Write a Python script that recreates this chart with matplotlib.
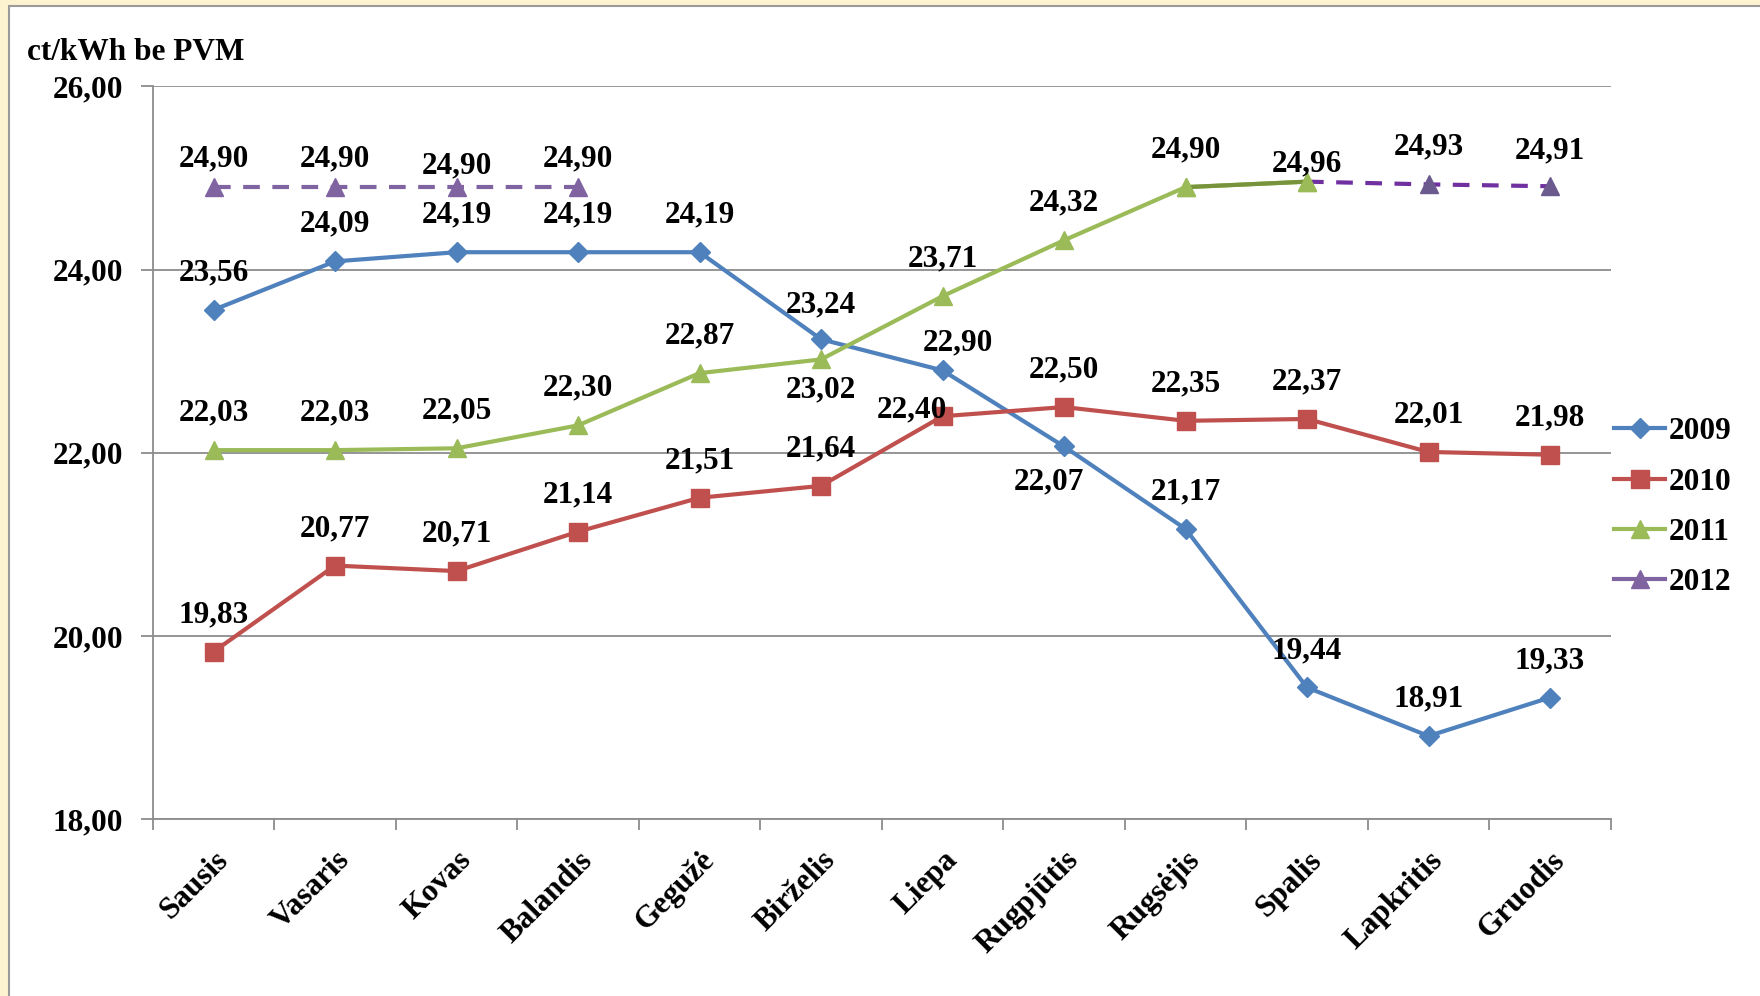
import numpy as np
import matplotlib
matplotlib.use("Agg")
import matplotlib.pyplot as plt
from matplotlib.patches import Rectangle

# data
months = ['Sausis', 'Vasaris', 'Kovas', 'Balandis', 'Gegužė', 'Birželis',
          'Liepa', 'Rugpjūtis', 'Rugsėjis', 'Spalis', 'Lapkritis', 'Gruodis']
y2009 = [23.56, 24.09, 24.19, 24.19, 24.19, 23.24, 22.90, 22.07, 21.17, 19.44, 18.91, 19.33]
y2010 = [19.83, 20.77, 20.71, 21.14, 21.51, 21.64, 22.40, 22.50, 22.35, 22.37, 22.01, 21.98]
y2011 = [22.03, 22.03, 22.05, 22.30, 22.87, 23.02, 23.71, 24.32, 24.90, 24.96, np.nan, np.nan]
y2012 = [24.90, 24.90, 24.90, 24.90, np.nan, np.nan, np.nan, np.nan, np.nan, 24.96, 24.93, 24.91]
yticks = [18, 20, 22, 24, 26]

plt.rcParams['font.family'] = ['Liberation Serif', 'DejaVu Serif']
plt.rcParams['font.weight'] = 'bold'
fs = 22.5

fig = plt.figure(figsize=(17.6, 9.96), dpi=100)
fig.patch.set_facecolor('#FEF3D0')
# white panel with grey border
fig.patches.append(Rectangle((9 / 1760, -0.01), 1.0, 1 - 6 / 996 + 0.01, transform=fig.transFigure,
                             facecolor='white', edgecolor='#9A9A9A', linewidth=1.5, zorder=-10))

ax = fig.add_axes([0.0868, 0.1773, 0.8284, 0.736])
x = np.arange(len(months))

# 2012 dashed (drawn under 2011 so the Spalis point shows green)
ax.plot(x[:4], y2012[:4], color='#8064A2', linestyle=(0, (4, 3)), linewidth=3,
        marker='^', markersize=13, markerfacecolor='#8064A2', markeredgecolor='#8064A2', zorder=3)
ax.plot(x[9:], y2012[9:], color='#7030A0', linestyle=(0, (4, 3)), linewidth=3,
        marker='^', markersize=13, markevery=[1, 2], markerfacecolor='#6B5A8E',
        markeredgecolor='#6B5A8E', zorder=3)
ax.plot(x, y2009, color='#4F81BD', linewidth=3, marker='D', markersize=10, zorder=4)
ax.plot(x, y2010, color='#C0504D', linewidth=3, marker='s', markersize=13, zorder=4)
ax.plot(x, y2011, color='#9BBB59', linewidth=3, marker='^', markersize=13, zorder=5)
# darker last segment of 2011
ax.plot(x[8:10], y2011[8:10], color='#77933C', linewidth=3, zorder=5)
ax.plot(x[8:10], y2011[8:10], color='#9BBB59', linestyle='none', marker='^', markersize=13, zorder=5)

# legend handles
h1, = ax.plot([], [], color='#4F81BD', linewidth=3, marker='D', markersize=10)
h2, = ax.plot([], [], color='#C0504D', linewidth=3, marker='s', markersize=13)
h3, = ax.plot([], [], color='#9BBB59', linewidth=3, marker='^', markersize=13)
h4, = ax.plot([], [], color='#8064A2', linewidth=3, marker='^', markersize=13)
leg = ax.legend([h1, h2, h3, h4], ['2009', '2010', '2011', '2012'], loc='center left',
                bbox_to_anchor=(1.0, 0.426), frameon=False, fontsize=fs, handlelength=1.65,
                handletextpad=0.1, labelspacing=0.68, borderaxespad=0.0, borderpad=0.1)

# data labels (offsets in pixels)
normal = 37
special = {
    ('2009', 5): (0, 34), ('2009', 6): (15, 28), ('2009', 7): (-15, -35),
    ('2010', 6): (-31, 6),
    ('2011', 5): (0, -30), ('2011', 9): (0, 18),
    ('2012', 0): (0, 28), ('2012', 1): (0, 28), ('2012', 2): (0, 21), ('2012', 3): (0, 28),
    ('2012', 11): (0, 35),
}
for name, ys in [('2009', y2009), ('2010', y2010), ('2011', y2011), ('2012', y2012)]:
    for i, v in enumerate(ys):
        if np.isnan(v) or (name == '2012' and i == 9):
            continue
        dx, dy = special.get((name, i), (0, normal))
        ax.annotate(f'{v:.2f}'.replace('.', ','), (i, v), xytext=(dx, dy),
                    textcoords='offset pixels', ha='center', va='center',
                    fontsize=fs, fontweight='bold', zorder=6)

ax.set_xlim(-0.5, 11.5)
ax.set_ylim(18, 26)
ax.set_yticks(yticks)
ax.set_yticklabels([f'{t:.2f}'.replace('.', ',') for t in yticks], fontsize=fs, fontweight='bold')
ax.yaxis.grid(True, color='#8C8C8C', linewidth=1.3)
ax.set_axisbelow(True)

ax.set_xticks(x)
ax.set_xticklabels(months, fontsize=fs, fontweight='bold', rotation=45, ha='right',
                   rotation_mode='anchor')
ax.set_xticks(np.arange(-0.5, 12, 1), minor=True)
ax.tick_params(axis='x', which='major', length=0, pad=19)
ax.tick_params(axis='x', which='minor', length=8, color='#8C8C8C', width=1.3)
ax.tick_params(axis='y', length=8.5, color='#8C8C8C', width=1.3, pad=13)

for s in ['top', 'right']:
    ax.spines[s].set_visible(False)
ax.spines['left'].set_color('#8C8C8C')
ax.spines['bottom'].set_color('#8C8C8C')
ax.spines['left'].set_linewidth(1.3)
ax.spines['bottom'].set_linewidth(1.3)
ax.set_facecolor('none')

fig.text(27 / 1760, 1 - 52 / 996, 'ct/kWh be PVM', fontsize=fs, fontweight='bold', va='center')

fig.savefig('out.png', dpi=100)
